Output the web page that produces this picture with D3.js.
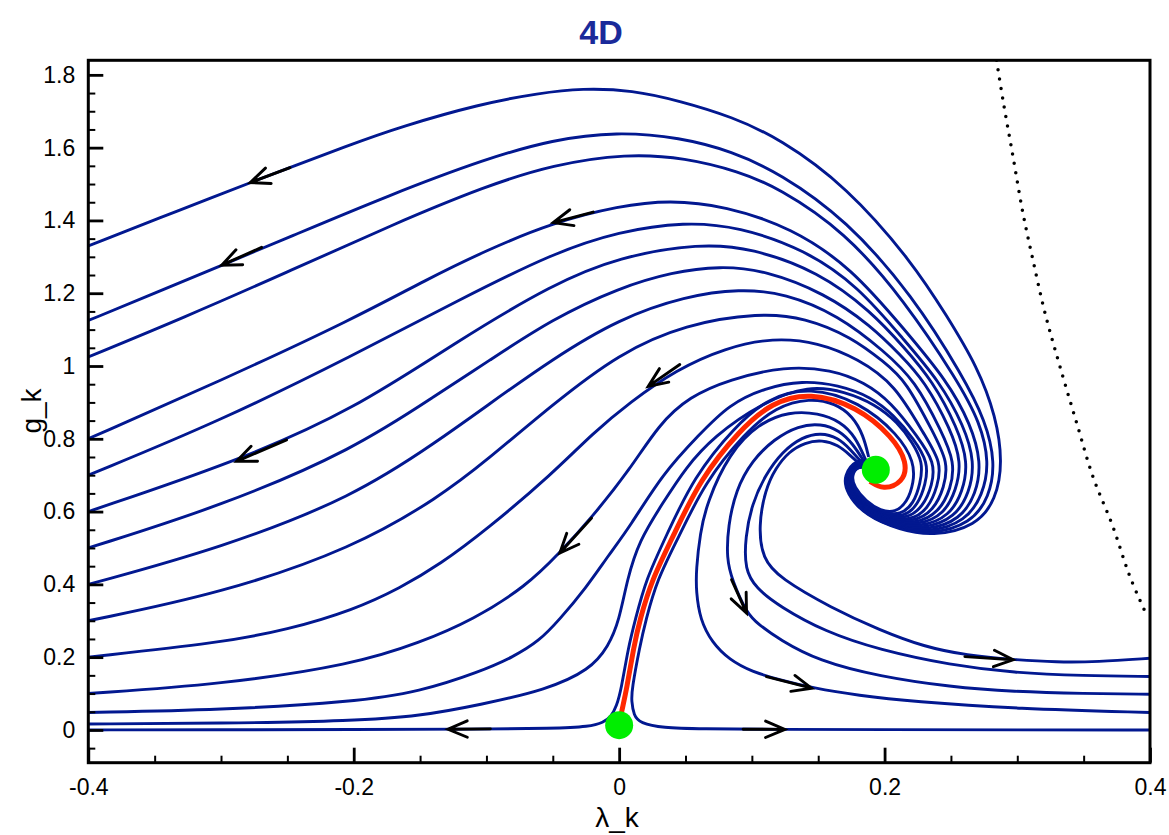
<!DOCTYPE html>
<html>
<head>
<meta charset="utf-8">
<script src="https://cdn.jsdelivr.net/npm/d3@7"></script>
<style>
  body { margin: 0; background: #fff; }
  svg { display: block; font-family: "Liberation Sans", Arial, sans-serif; }
</style>
</head>
<body>
<svg id="chart" width="1169" height="835"></svg>
<script>
// flow trajectories in the (lambda_k, g_k) plane
// type Ia trajectories, ending on the left edge
const left1 = [[-0.4,1.33],[-0.33,1.43],[-0.278,1.504],[-0.2,1.612],[-0.165,1.657],[-0.105,1.72],[-0.06,1.75],[-0.028,1.763],[0.01,1.758],[0.046,1.728],[0.085,1.685],[0.121,1.625],[0.171,1.495],[0.221,1.285],[0.247,1.137],[0.27,0.998],[0.284,0.861],[0.289,0.735],[0.284,0.633],[0.269,0.56],[0.236,0.532],[0.2115,0.55],[0.186,0.587],[0.171,0.651],[0.169,0.70],[0.179,0.745],[0.19,0.74]];
const left2 = [[-0.4,1.125],[-0.35,1.2],[-0.3,1.276],[-0.25,1.352],[-0.173,1.47],[-0.1,1.57],[-0.05,1.622],[-0.002,1.644],[0.046,1.628],[0.085,1.59],[0.121,1.53],[0.171,1.403],[0.2215,1.192],[0.259,0.972],[0.276,0.85],[0.2835,0.735],[0.279,0.64],[0.265,0.567],[0.235,0.537],[0.21,0.553],[0.186,0.59],[0.172,0.65],[0.17,0.70],[0.179,0.742],[0.19,0.735]];
const left3 = [[-0.4,1.025],[-0.33,1.13],[-0.25,1.258],[-0.17,1.39],[-0.1,1.495],[-0.05,1.553],[0.0056,1.584],[0.05,1.572],[0.09,1.535],[0.12,1.49],[0.17,1.37],[0.215,1.18],[0.255,0.96],[0.272,0.845],[0.279,0.735],[0.274,0.645],[0.261,0.573],[0.234,0.542],[0.209,0.557],[0.186,0.593],[0.172,0.652],[0.17,0.70],[0.179,0.74],[0.19,0.73]];
const left4 = [[-0.4,0.8],[-0.3,0.96],[-0.2,1.13],[-0.145,1.238],[-0.1,1.318],[-0.05,1.394],[0.0,1.44],[0.038,1.456],[0.08,1.44],[0.13,1.38],[0.175,1.27],[0.215,1.1],[0.247,0.96],[0.265,0.84],[0.273,0.735],[0.269,0.648],[0.257,0.578],[0.232,0.547],[0.208,0.561],[0.186,0.596],[0.173,0.652],[0.171,0.70],[0.18,0.738],[0.19,0.73]];
const left5 = [[-0.4,0.7],[-0.3,0.85],[-0.2,1.03],[-0.12,1.183],[-0.05,1.31],[0.0,1.37],[0.0495,1.396],[0.09,1.383],[0.14,1.32],[0.18,1.22],[0.215,1.07],[0.241,0.96],[0.26,0.835],[0.268,0.735],[0.264,0.652],[0.253,0.583],[0.23,0.552],[0.207,0.565],[0.186,0.6],[0.173,0.655],[0.171,0.70],[0.18,0.736],[0.19,0.73]];
const left6 = [[-0.4,0.6],[-0.288,0.738],[-0.2,0.88],[-0.12,1.073],[-0.05,1.225],[0.0,1.30],[0.061,1.337],[0.1,1.324],[0.15,1.26],[0.19,1.15],[0.215,1.05],[0.236,0.96],[0.255,0.83],[0.263,0.735],[0.259,0.655],[0.249,0.588],[0.228,0.557],[0.206,0.569],[0.186,0.603],[0.173,0.656],[0.171,0.70],[0.18,0.735],[0.19,0.728]];
const left7 = [[-0.4,0.5],[-0.3,0.615],[-0.2,0.77],[-0.135,0.927],[-0.1,1.01],[-0.05,1.13],[0.0,1.215],[0.04,1.258],[0.076,1.275],[0.11,1.263],[0.155,1.2],[0.19,1.11],[0.212,1.03],[0.23,0.96],[0.25,0.825],[0.258,0.735],[0.254,0.66],[0.245,0.593],[0.226,0.562],[0.205,0.573],[0.186,0.606],[0.174,0.657],[0.172,0.70],[0.18,0.733],[0.19,0.727]];
const left8 = [[-0.4,0.4],[-0.3,0.5],[-0.2,0.64],[-0.135,0.798],[-0.1,0.89],[-0.05,1.02],[0.0,1.13],[0.05,1.192],[0.091,1.212],[0.125,1.2],[0.165,1.14],[0.2,1.04],[0.223,0.96],[0.243,0.82],[0.253,0.735],[0.25,0.663],[0.241,0.598],[0.224,0.566],[0.204,0.577],[0.186,0.609],[0.174,0.658],[0.172,0.70],[0.18,0.732],[0.19,0.726]];
const left9 = [[-0.4,0.3],[-0.3,0.375],[-0.2,0.5],[-0.135,0.641],[-0.1,0.74],[-0.05,0.895],[0.0,1.035],[0.05,1.115],[0.106,1.146],[0.14,1.133],[0.175,1.08],[0.2,1.01],[0.216,0.96],[0.237,0.815],[0.248,0.735],[0.245,0.667],[0.237,0.603],[0.222,0.571],[0.203,0.58],[0.186,0.612],[0.175,0.66],[0.173,0.70],[0.18,0.731],[0.19,0.725]];
const left10 = [[-0.4,0.2],[-0.3,0.24],[-0.25,0.275],[-0.2,0.33],[-0.165,0.39],[-0.135,0.455],[-0.1,0.55],[-0.05,0.705],[-0.02,0.815],[0.008,0.9],[0.043,0.99],[0.08,1.05],[0.116,1.078],[0.15,1.065],[0.18,1.02],[0.208,0.95],[0.23,0.81],[0.243,0.735],[0.24,0.67],[0.233,0.608],[0.22,0.575],[0.202,0.584],[0.186,0.615],[0.175,0.662],[0.173,0.70],[0.18,0.73],[0.19,0.724]];
const left11 = [[-0.4,0.1],[-0.3,0.125],[-0.2,0.18],[-0.15,0.24],[-0.11,0.303],[-0.07,0.395],[-0.045,0.486],[-0.021,0.582],[0.008,0.715],[0.03,0.84],[0.053,0.916],[0.083,0.963],[0.125,1.0],[0.16,0.99],[0.185,0.955],[0.205,0.9],[0.225,0.805],[0.238,0.735],[0.236,0.673],[0.229,0.613],[0.217,0.58],[0.201,0.588],[0.186,0.618],[0.175,0.663],[0.173,0.70],[0.18,0.729],[0.19,0.723]];
const left12 = [[-0.4,0.048],[-0.3,0.055],[-0.2,0.077],[-0.15,0.105],[-0.105,0.16],[-0.08,0.2],[-0.06,0.245],[-0.045,0.303],[-0.025,0.39],[-0.008,0.48],[0.008,0.558],[0.033,0.705],[0.06,0.81],[0.083,0.895],[0.11,0.94],[0.138,0.96],[0.165,0.948],[0.19,0.915],[0.207,0.865],[0.222,0.8],[0.233,0.735],[0.231,0.676],[0.225,0.618],[0.215,0.585],[0.2,0.592],[0.186,0.62],[0.176,0.664],[0.174,0.70],[0.18,0.728],[0.19,0.722]];
const left13 = [[-0.4,0.0165],[-0.3,0.018],[-0.2,0.025],[-0.15,0.038],[-0.105,0.069],[-0.055,0.11],[-0.022,0.165],[-0.008,0.23],[0.0,0.3],[0.006,0.413],[0.015,0.52],[0.033,0.624],[0.05,0.72],[0.071,0.806],[0.108,0.9],[0.143,0.947],[0.17,0.93],[0.193,0.895],[0.21,0.845],[0.221,0.79],[0.229,0.735],[0.227,0.678],[0.222,0.622],[0.212,0.59],[0.199,0.596],[0.186,0.623],[0.176,0.665],[0.174,0.70],[0.18,0.727],[0.19,0.721]];
const left14 = [[-0.4,0.0],[-0.3,0.0005],[-0.2,0.001],[-0.105,0.002],[-0.05,0.004],[-0.022,0.009],[-0.012,0.02],[-0.006,0.037],[-0.002,0.065],[0.0015,0.11],[0.007,0.229],[0.012,0.3],[0.02,0.413],[0.036,0.537],[0.056,0.694],[0.087,0.833],[0.112,0.912],[0.1437,0.943],[0.181,0.902],[0.2105,0.812],[0.2225,0.735],[0.222,0.68],[0.217,0.625],[0.208,0.597],[0.197,0.602],[0.186,0.628],[0.177,0.667],[0.175,0.70],[0.18,0.726],[0.19,0.72]];

// type IIIa trajectories, ending on the right edge
const right1 = [[0.4,0.197],[0.36,0.187],[0.33,0.186],[0.297,0.193],[0.262,0.205],[0.23,0.228],[0.196,0.275],[0.16,0.335],[0.121,0.417],[0.108,0.47],[0.105,0.56],[0.11,0.66],[0.118,0.72],[0.128,0.765],[0.14,0.79],[0.153,0.797],[0.165,0.783],[0.174,0.755],[0.183,0.725]];
const right2 = [[0.4,0.147],[0.35,0.149],[0.297,0.157],[0.25,0.178],[0.196,0.22],[0.155,0.27],[0.121,0.339],[0.103,0.39],[0.0947,0.44],[0.095,0.53],[0.1,0.62],[0.11,0.7],[0.123,0.765],[0.138,0.805],[0.152,0.817],[0.165,0.803],[0.174,0.772],[0.184,0.73]];
const right3 = [[0.4,0.098],[0.35,0.1],[0.297,0.105],[0.25,0.118],[0.196,0.147],[0.15,0.19],[0.121,0.248],[0.105,0.29],[0.096,0.321],[0.085,0.413],[0.081,0.47],[0.082,0.56],[0.088,0.66],[0.1,0.74],[0.117,0.8],[0.135,0.836],[0.152,0.842],[0.166,0.823],[0.176,0.787],[0.185,0.735]];
const right4 = [[0.4,0.048],[0.3,0.058],[0.2215,0.078],[0.18,0.095],[0.146,0.115],[0.121,0.1375],[0.1,0.16],[0.083,0.193],[0.07,0.24],[0.061,0.303],[0.058,0.38],[0.058,0.44],[0.061,0.54],[0.066,0.624],[0.083,0.761],[0.105,0.842],[0.128,0.875],[0.15,0.871],[0.167,0.847],[0.178,0.806],[0.186,0.74]];
const right5 = [[0.4,0.0],[0.3,0.0003],[0.2,0.0007],[0.12,0.0015],[0.06,0.003],[0.033,0.0055],[0.0156,0.019],[0.011,0.04],[0.0093,0.08],[0.0095,0.11],[0.0155,0.229],[0.02,0.3],[0.0285,0.413],[0.0445,0.527],[0.0645,0.68],[0.0945,0.815],[0.118,0.888],[0.1437,0.912],[0.163,0.897],[0.176,0.862],[0.184,0.81],[0.188,0.75]];

// separatrix from the non-Gaussian to the Gaussian fixed point
const separatrix = [[0,0.013],[0.0018,0.05],[0.0056,0.11],[0.011,0.229],[0.0156,0.303],[0.0246,0.413],[0.0407,0.532],[0.0608,0.688],[0.091,0.825],[0.115,0.90],[0.1437,0.928],[0.179,0.889],[0.206,0.806],[0.2175,0.734],[0.2138,0.679],[0.1987,0.660],[0.189,0.683]];

// dotted boundary line (upper right)
const singularLine = [[0.2844,1.84],[0.2891,1.733],[0.2967,1.577],[0.3042,1.421],[0.3117,1.293],[0.3208,1.147],[0.3321,0.999],[0.3447,0.844],[0.3569,0.697],[0.372,0.559],[0.3848,0.422],[0.3974,0.316]];

// fixed points [lambda, g]
const fixedPoints = [[0.1934,0.715],[0,0.013]];

// direction arrows: [tail, tip]
const arrowPairs = [
  [[-0.248,1.545],[-0.278,1.504]],
  [[-0.2694,1.326],[-0.2995,1.277]],
  [[-0.0196,1.423],[-0.0497,1.394]],
  [[-0.2506,0.797],[-0.2883,0.738]],
  [[0.0457,1.004],[0.0219,0.944]],
  [[-0.0208,0.582],[-0.0447,0.486]],
  [[0.0847,0.413],[0.096,0.321]],
  [[0.111,0.1467],[0.145,0.1147]],
  [[0.2605,0.2015],[0.2969,0.1928]],
  [[0.0934,0.002],[0.1249,0.0015]],
  [[-0.097,0.003],[-0.129,0.002]]
];

const xMajor = [-0.4,-0.2,0,0.2,0.4];
const yMajor = [0,0.2,0.4,0.6,0.8,1,1.2,1.4,1.6,1.8];
const xMinor = [-0.35,-0.3,-0.25,-0.15,-0.1,-0.05,0.05,0.1,0.15,0.25,0.3,0.35];
const yMinor = [-0.05,0.05,0.1,0.15,0.25,0.3,0.35,0.45,0.5,0.55,0.65,0.7,0.75,0.85,0.9,0.95,1.05,1.1,1.15,1.25,1.3,1.35,1.45,1.5,1.55,1.65,1.7,1.75];

const leftFlows = [left1,left2,left3,left4,left5,left6,left7,left8,left9,left10,left11,left12,left13,left14];
const rightFlows = [right1,right2,right3,right4,right5];

const blue = "#021890";

let svg = d3.select("#chart");

let x = d3.scaleLinear().domain([-0.4,0.4]).range([88.3,1150]);
let y = d3.scaleLinear().domain([-0.09,1.84]).range([762.7,60.3]);

svg.append("clipPath").attr("id","plotclip")
  .append("rect")
  .attr("x", x(-0.4)).attr("y", y(1.84))
  .attr("width", x(0.4)-x(-0.4)).attr("height", y(-0.09)-y(1.84));

let smooth = d3.line()
  .x(d => x(d[0]))
  .y(d => y(d[1]))
  .curve(d3.curveBasis);

let through = d3.line()
  .x(d => x(d[0]))
  .y(d => y(d[1]))
  .curve(d3.curveCatmullRom.alpha(0.5));

let plot = svg.append("g").attr("clip-path","url(#plotclip)");

plot.selectAll("path.flow")
  .data(leftFlows.concat(rightFlows))
  .join("path")
  .attr("class","flow")
  .attr("d", smooth)
  .attr("fill","none")
  .attr("stroke", blue)
  .attr("stroke-width", 2.9);

plot.append("path")
  .datum(separatrix)
  .attr("d", smooth)
  .attr("fill","none")
  .attr("stroke","#ff2800")
  .attr("stroke-width", 5);

plot.append("path")
  .datum(singularLine)
  .attr("d", through)
  .attr("fill","none")
  .attr("stroke","#000")
  .attr("stroke-width", 3.5)
  .attr("stroke-linecap","round")
  .attr("stroke-dasharray","0,9.5");

// arrows
let arrowG = plot.append("g")
  .attr("stroke","#000")
  .attr("stroke-width", 2.9)
  .attr("stroke-linecap","round")
  .attr("fill","none");

arrowPairs.forEach(a => {
  let x0 = x(a[0][0]), y0 = y(a[0][1]);
  let x1 = x(a[1][0]), y1 = y(a[1][1]);
  let ang = Math.atan2(y0 - y1, x0 - x1);
  let len = 21, spread = 23 * Math.PI / 180;
  let h1 = [x1 + len*Math.cos(ang+spread), y1 + len*Math.sin(ang+spread)];
  let h2 = [x1 + len*Math.cos(ang-spread), y1 + len*Math.sin(ang-spread)];
  arrowG.append("path")
    .attr("d", `M${x0},${y0}L${x1},${y1}M${h1[0]},${h1[1]}L${x1},${y1}L${h2[0]},${h2[1]}`);
});

plot.selectAll("circle.fp")
  .data(fixedPoints)
  .join("circle")
  .attr("class","fp")
  .attr("cx", d => x(d[0]))
  .attr("cy", d => y(d[1]))
  .attr("r", 14)
  .attr("fill","#00ee00");

// axes, ticks pointing inward
let fmt = d => String(d);

svg.append("g")
  .attr("transform", `translate(0,${y(-0.09)})`)
  .call(d3.axisBottom(x).tickValues(xMinor).tickSize(-7).tickFormat(""))
  .call(g => g.selectAll(".tick line").attr("stroke-width", 2));

svg.append("g")
  .attr("transform", `translate(0,${y(-0.09)})`)
  .call(d3.axisBottom(x).tickValues(xMajor).tickSize(-15).tickPadding(16).tickFormat(fmt))
  .call(g => g.selectAll(".tick line").attr("stroke-width", 2.8))
  .call(g => g.selectAll("text").attr("font-size", 23).attr("fill","#000")
                .attr("font-family","Liberation Sans, Arial, sans-serif"));

svg.append("g")
  .attr("transform", `translate(${x(-0.4)},0)`)
  .call(d3.axisLeft(y).tickValues(yMinor).tickSize(-7).tickFormat(""))
  .call(g => g.selectAll(".tick line").attr("stroke-width", 2));

svg.append("g")
  .attr("transform", `translate(${x(-0.4)},0)`)
  .call(d3.axisLeft(y).tickValues(yMajor).tickSize(-15).tickPadding(13).tickFormat(fmt))
  .call(g => g.selectAll(".tick line").attr("stroke-width", 2.8))
  .call(g => g.selectAll("text").attr("font-size", 23).attr("fill","#000")
                .attr("font-family","Liberation Sans, Arial, sans-serif"));

svg.selectAll(".domain").remove();

// frame
svg.append("rect")
  .attr("x", x(-0.4)).attr("y", y(1.84))
  .attr("width", x(0.4)-x(-0.4)).attr("height", y(-0.09)-y(1.84))
  .attr("fill","none")
  .attr("stroke","#000")
  .attr("stroke-width", 3);

// titles
svg.append("text")
  .attr("x", 601).attr("y", 44)
  .attr("text-anchor","middle")
  .attr("font-size", 34)
  .attr("font-weight","bold")
  .attr("fill","#1a2a9a")
  .text("4D");

svg.append("text")
  .attr("x", 617).attr("y", 827)
  .attr("text-anchor","middle")
  .attr("font-size", 28)
  .text("λ_k");

svg.append("text")
  .attr("transform","translate(41,411) rotate(-90)")
  .attr("text-anchor","middle")
  .attr("font-size", 28)
  .text("g_k");
</script>
</body>
</html>
